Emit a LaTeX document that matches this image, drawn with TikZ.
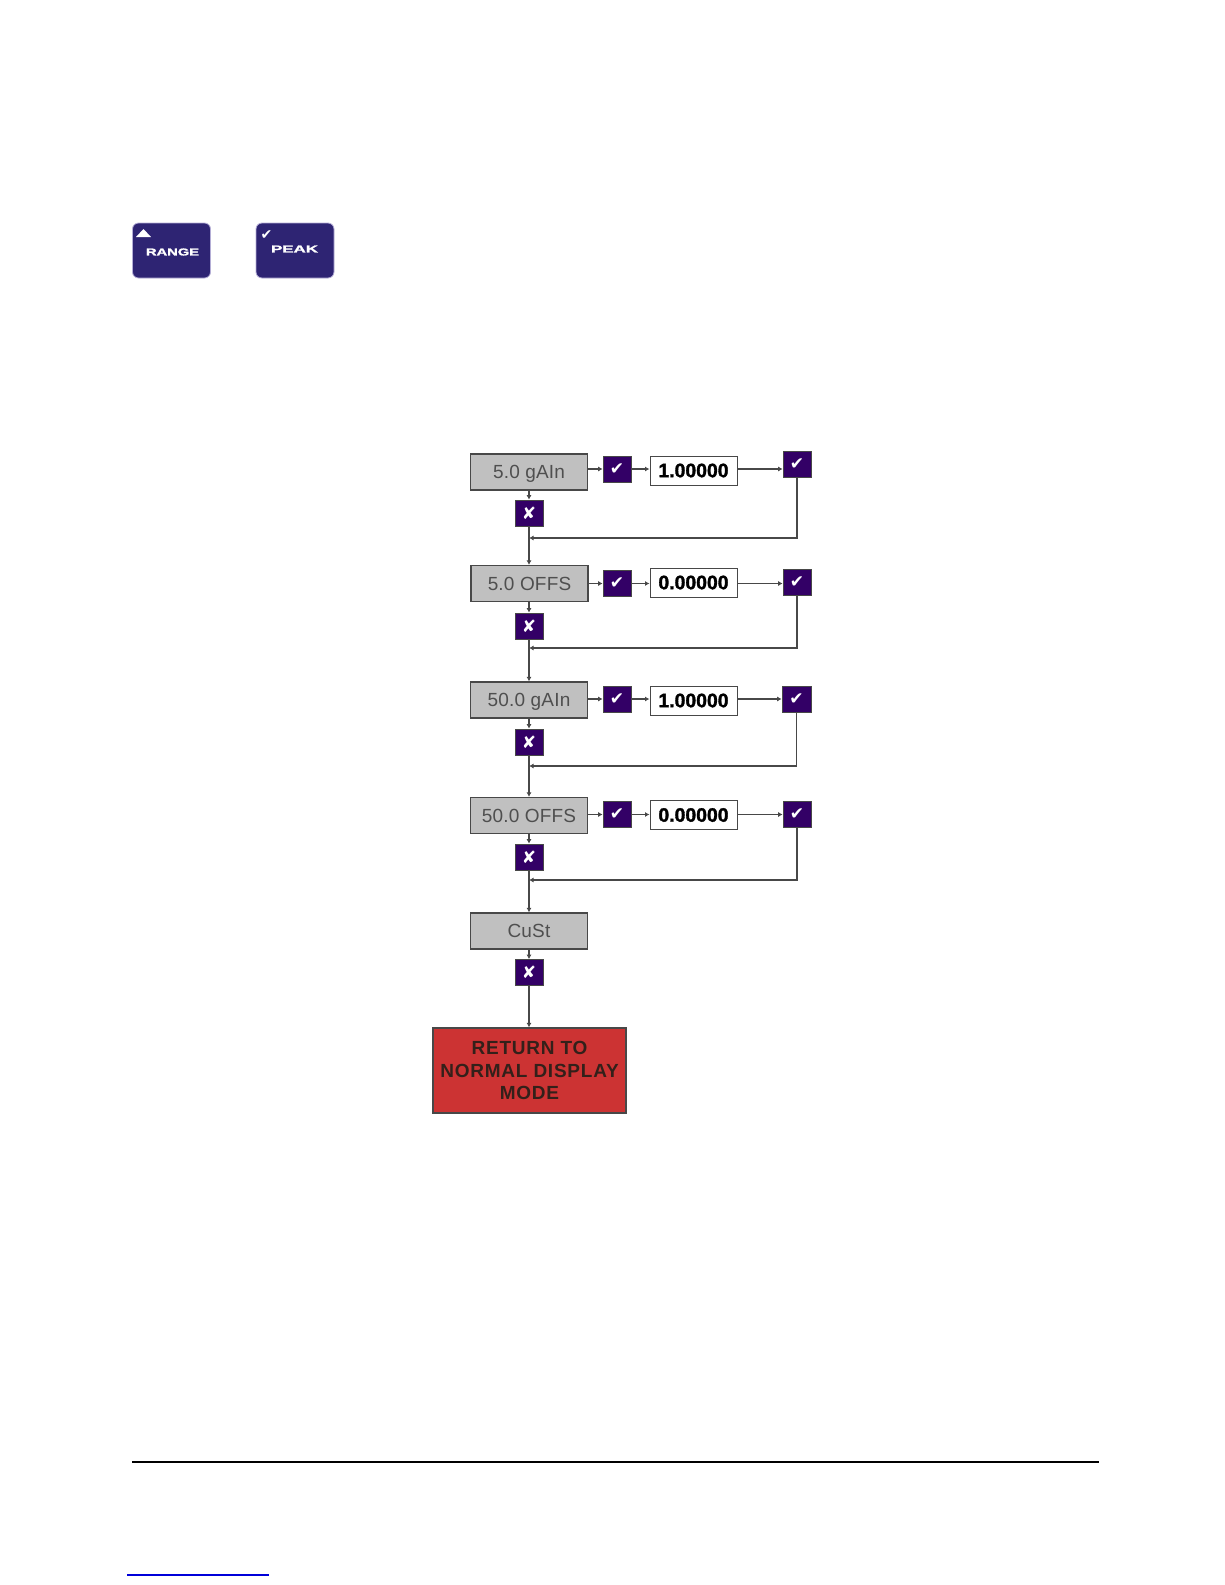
\documentclass[tikz,border=0pt]{standalone}
\usepackage{fontspec}
\setmainfont{Liberation Sans}
\newfontfamily\symfont{DejaVu Sans}
\newfontfamily\heavyfont[FakeBold=1.6]{Liberation Sans Bold}
\newfontfamily\trackedfont[LetterSpace=4]{Liberation Sans Bold}
\newfontfamily\labelfont[LetterSpace=1]{Liberation Sans}
\usetikzlibrary{arrows.meta}
\definecolor{keyblue}{HTML}{2E2473}
\definecolor{keyedge}{HTML}{B4AED6}
\definecolor{purplekey}{HTML}{330066}
\definecolor{linegray}{HTML}{484848}
\definecolor{boxgray}{HTML}{C0C0C0}
\definecolor{labelgray}{HTML}{4F4F4F}
\definecolor{alarmred}{HTML}{CC3333}
\definecolor{darktext}{HTML}{33201A}
\tikzset{
  x=1pt,y=-1pt,
  keycap/.style={draw=keyedge,line width=0.8pt,fill=keyblue,rounded corners=6pt,minimum width=78pt,minimum height=55pt,inner sep=0pt},
  keytext/.style={text=white,inner sep=0pt,font=\heavyfont\fontsize{10}{10}\selectfont},
  state/.style={draw=linegray,line width=1.2pt,fill=boxgray,minimum width=117pt,minimum height=36pt,inner sep=0pt,text height=14.5pt,text depth=1.5pt,text=labelgray,font=\labelfont\fontsize{19}{20}\selectfont},
  valuebox/.style={draw=linegray,line width=1pt,fill=white,minimum width=87pt,minimum height=29pt,inner sep=0pt,text=black,font=\heavyfont\fontsize{19.4}{20}\selectfont},
  okkey/.style={draw=linegray,line width=0.6pt,fill=purplekey,minimum width=28pt,minimum height=26pt,inner sep=0pt,text=white,font=\symfont\fontsize{17}{17}\selectfont},
  nokey/.style={okkey},
  exitbox/.style={draw=linegray,line width=1.2pt,fill=alarmred,minimum width=193pt,minimum height=85pt,inner sep=0pt,text=darktext,align=center,font=\trackedfont\fontsize{19}{22.5}\selectfont},
  flow/.style={draw=linegray,line width=1.3pt,-{Latex[length=4.5pt,width=5pt]}},
}
\begin{document}
\begin{tikzpicture}
\useasboundingbox (0,0) rectangle (1225,1585);
% keys
\node[keycap] (rangekey) at (171.5,250.5) {};
\node[keycap] (peakkey) at (295,250.5) {};
\node[keytext] (rangetxt) at (172.5,252) {\scalebox{1.47}[1]{RANGE}};
\node[keytext] (peaktxt) at (294.5,249) {\scalebox{1.69}[1]{PEAK}};
\fill[white] (136,237) -- (143.5,229) -- (151,237) -- cycle;
\node[text=white,inner sep=0pt,font=\symfont\fontsize{14}{14}\selectfont] (peakmark) at (266.5,235) {✔};
% rows
\node[state] (b1) at (529,472) {5.0 gAIn};
\node[state] (b2) at (529.5,583.5) {5.0 OFFS};
\node[state] (b3) at (529,700) {50.0 gAIn};
\node[state] (b4) at (529,815.5) {50.0 OFFS};
\node[state] (b5) at (529,931) {CuSt};
\node[okkey] (c1) at (617,469) {✔};
\node[okkey] (c2) at (617,583.5) {✔};
\node[okkey] (c3) at (617,699) {✔};
\node[okkey] (c4) at (617,814.5) {✔};
\node[valuebox] (v1) at (693.5,470.5) {1.00000};
\node[valuebox] (v2) at (693.5,582.5) {0.00000};
\node[valuebox] (v3) at (693.5,700.5) {1.00000};
\node[valuebox] (v4) at (693.5,815) {0.00000};
\node[okkey] (k1) at (797,464.5) {✔};
\node[okkey] (k2) at (797,582.5) {✔};
\node[okkey,minimum width=29pt] (k3) at (796.5,699) {✔};
\node[okkey] (k4) at (797,814.5) {✔};
\node[nokey] (x1) at (529,513) {✘};
\node[nokey] (x2) at (529,626) {✘};
\node[nokey] (x3) at (529,742) {✘};
\node[nokey] (x4) at (529,857) {✘};
\node[nokey] (x5) at (529,972.5) {✘};
\node[exitbox] (ret) at (529.5,1070.5) {RETURN TO\\NORMAL DISPLAY\\MODE};
\coordinate (f1) at (529,538);
\coordinate (f2) at (529,648);
\coordinate (f3) at (529,766);
\coordinate (f4) at (529,880);
% horizontal flow
\foreach \i in {1,2,3,4}{
  \draw[flow] (b\i.east |- c\i.west) -- (c\i.west);
  \draw[flow] (c\i.east) -- (v\i.west |- c\i.east);
  \draw[flow] (c\i.east -| v\i.east) -- (c\i.east -| k\i.west);
  \draw[flow] (k\i.south) |- (f\i);
  \draw[flow] (x\i.north |- b\i.south) -- (x\i.north);
}
\draw[flow] (x1.south) -- (x1.south |- b2.north);
\draw[flow] (x2.south) -- (x2.south |- b3.north);
\draw[flow] (x3.south) -- (x3.south |- b4.north);
\draw[flow] (x4.south) -- (x4.south |- b5.north);
\draw[flow] (x5.north |- b5.south) -- (x5.north);
\draw[flow] (x5.south) -- (x5.south |- ret.north);
% page rules
\coordinate (ruleL) at (132,1462);
\coordinate (ruleR) at (1099,1462);
\draw[black,line width=2.2pt] (ruleL) -- (ruleR);
\coordinate (linkL) at (127,1575);
\coordinate (linkR) at (269,1575);
\draw[blue!85!black,line width=1.2pt] (linkL) -- (linkR);
\end{tikzpicture}
\end{document}
